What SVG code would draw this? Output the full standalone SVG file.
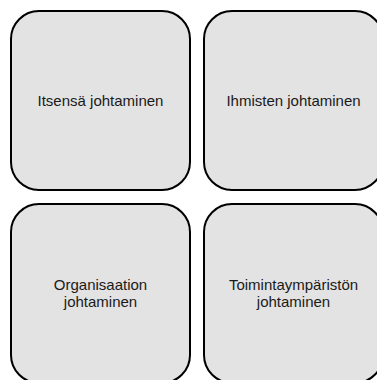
<svg xmlns="http://www.w3.org/2000/svg" width="377" height="380" viewBox="0 0 377 380">
<style>
.box{fill:#e3e3e3;stroke:#000;stroke-width:2}
.lbl{font-family:"Liberation Sans",Arial,sans-serif;font-size:15px;fill:#1a1a1a;text-anchor:middle}
</style>
<rect width="377" height="380" fill="#fff"/>
<g id="node-itsensa">
<rect class="box" x="11" y="11" width="179" height="179" rx="28" ry="28"/>
<text class="lbl" x="100.5" y="106">Itsensä johtaminen</text>
</g>
<g id="node-ihmisten">
<rect class="box" x="204" y="11" width="179" height="179" rx="28" ry="28"/>
<text class="lbl" x="293.5" y="106">Ihmisten johtaminen</text>
</g>
<g id="node-organisaation">
<rect class="box" x="11" y="204" width="179" height="179" rx="28" ry="28"/>
<text class="lbl" x="100.5" y="290">Organisaation</text>
<text class="lbl" x="100.5" y="307">johtaminen</text>
</g>
<g id="node-toimintaymparisto">
<rect class="box" x="204" y="204" width="179" height="179" rx="28" ry="28"/>
<text class="lbl" x="293.5" y="290">Toimintaympäristön</text>
<text class="lbl" x="293.5" y="307">johtaminen</text>
</g>
<g id="connectors"></g>
</svg>
